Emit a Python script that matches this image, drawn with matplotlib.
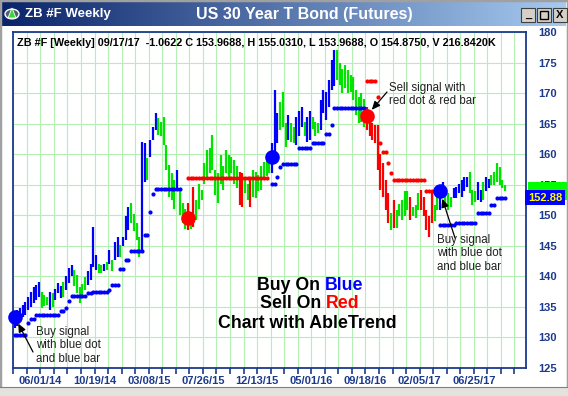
import numpy as np
import matplotlib
matplotlib.use("Agg")
import matplotlib.pyplot as plt
from matplotlib.colors import LinearSegmentedColormap
from matplotlib.patches import Rectangle, Circle, Polygon
from matplotlib.offsetbox import TextArea, HPacker, AnnotationBbox
import matplotlib.transforms as mtrans

plt.rcParams['font.family'] = ['Liberation Sans', 'DejaVu Sans']

# ---------------- data ----------------
highs = [
    133.8, 134.5, 134.9, 135.3, 135.8, 136.7, 137.4, 138.3, 138.6, 139.1,
    137.4, 137.0, 136.7, 137.5, 137.2, 138.0, 138.9, 138.5, 139.1, 140.0,
    141.3, 141.9, 141.0, 140.2, 138.3, 138.8, 139.9, 140.8, 142.1, 148.1,
    143.5, 142.1, 141.8, 142.1, 142.4, 144.3, 142.7, 145.7, 146.5, 145.1,
    146.5, 149.8, 151.4, 152.0, 150.2, 148.7, 146.5, 162.0, 161.8, 159.3,
    162.3, 164.5, 166.7, 165.9, 165.3, 166.1, 161.5, 158.2, 156.9, 155.8,
    157.4, 154.1, 152.0, 151.0, 152.0, 150.5, 154.7, 152.5, 155.2, 154.1,
    158.5, 160.7, 161.0, 163.1, 157.4, 156.9, 159.9, 158.0, 160.7, 159.9,
    159.6, 159.0, 158.0, 157.1, 156.9, 155.8, 155.2, 156.0, 157.4, 157.1,
    156.6, 158.0, 158.8, 159.5, 160.0, 161.8, 170.5, 166.7, 168.6, 170.2,
    165.1, 166.4, 165.1, 164.5, 166.1, 167.0, 167.8, 165.3, 166.1, 167.0,
    166.1, 165.3, 165.1, 168.9, 170.5, 170.2, 172.1, 175.4, 177.1, 177.0,
    174.9, 174.0, 174.6, 173.8, 173.0, 172.7, 170.5, 169.4, 170.0, 169.1,
    167.8, 165.6, 165.1, 164.8, 164.8, 160.1, 158.5, 155.8, 153.6, 150.3,
    152.5, 150.9, 151.9, 152.5, 153.9, 153.9, 153.0, 151.4, 151.7, 153.6,
    154.1, 153.0, 150.9, 149.8, 153.6, 151.7, 153.6, 153.6, 155.5, 154.1,
    153.6, 153.0, 154.4, 154.7, 155.2, 155.8, 156.3, 156.3, 157.1, 154.1,
    153.9, 155.5, 154.1, 155.5, 156.3, 156.0, 156.6, 157.1, 158.5, 157.9,
    155.8, 155.03,
]
lows = [
    131.5, 131.8, 132.6, 133.4, 133.6, 134.5, 135.0, 135.6, 136.2, 136.7,
    134.8, 135.1, 135.3, 134.5, 135.0, 136.1, 137.2, 136.5, 136.7, 137.8,
    138.9, 140.0, 138.5, 137.2, 135.6, 136.5, 137.8, 138.6, 139.4, 141.6,
    141.0, 140.5, 140.6, 140.8, 141.0, 142.1, 140.8, 142.7, 143.2, 143.2,
    144.9, 146.0, 147.6, 148.7, 147.5, 146.0, 143.2, 144.0, 155.5, 155.8,
    159.6, 162.3, 164.0, 163.1, 162.9, 161.5, 157.4, 153.0, 152.5, 151.1,
    154.1, 150.0, 148.7, 147.8, 147.6, 147.8, 148.1, 149.2, 151.1, 152.5,
    155.2, 156.3, 156.9, 157.4, 153.3, 152.0, 155.2, 154.1, 156.9, 156.3,
    156.9, 155.2, 154.5, 151.7, 151.4, 153.6, 152.5, 151.4, 153.0, 152.8,
    153.9, 154.1, 156.3, 156.5, 157.0, 156.9, 159.6, 161.8, 164.0, 164.5,
    161.2, 162.3, 162.0, 161.8, 161.5, 162.9, 164.5, 162.9, 162.0, 162.3,
    164.2, 162.9, 163.4, 164.0, 166.7, 165.6, 167.8, 170.5, 171.1, 172.1,
    171.3, 170.0, 170.8, 170.0, 170.2, 168.9, 166.4, 165.1, 165.3, 164.5,
    164.0, 162.9, 162.3, 161.8, 157.4, 154.1, 153.0, 150.9, 148.7, 147.6,
    147.9, 147.9, 149.8, 149.2, 149.8, 150.9, 149.2, 149.8, 149.6, 150.9,
    150.9, 149.8, 147.6, 146.5, 148.7, 149.0, 150.9, 150.9, 153.0, 151.4,
    150.9, 151.4, 152.8, 152.8, 153.6, 153.0, 153.9, 154.7, 153.6, 151.7,
    152.2, 152.5, 152.2, 152.5, 153.9, 154.5, 155.0, 155.0, 155.5, 155.0,
    154.4, 153.97,
]
# B = up trend (blue), G = neutral (green), R = down trend (red)
bar_side = ("BBBBBBBBBB" "GGGBGBBBGB" "BBGGGGGBBB" "BGGBGBGBBG" "BBBGGGGBBG"
            "BBBGGGGGGG" "BGGGRGRGGG" "GGGGGGGGGG" "GGGRRGGRGG" "GGGGGBBBGG"
            "GBGGBBBGBB" "GGGBBBBBBG" "GGGGGGGGGG" "RRRRRRRRRG" "RGGGGGRGGG"
            "RRRRRGGBBG" "GGBBBBBBGG" "GBBGBBGGGG" "GG")

nan = float('nan')
stop_levels = [
    130.4, 130.4, 130.4, 130.4, 130.4, 132.3, 133.1, 133.1, 133.6, 133.6,
    133.6, 133.6, 133.6, 133.6, 133.6, 133.6, 133.6, 134.4, 134.4, 134.8,
    135.9, 136.8, 136.8, 136.8, 136.8, 136.8, 136.8, 137.2, 137.2, 137.5,
    137.5, 137.5, 137.5, 137.5, 137.5, 137.8, 138.6, 138.6, 138.6, 141.2,
    141.2, 142.7, 142.7, 144.2, 144.2, 144.2, 144.2, 144.2, 146.7, 146.7,
    150.6, 153.5, 154.3, 154.3, 154.3, 154.3, 154.3, 154.3, 154.3, 154.3,
    154.3, 154.3, nan, nan, 156.1, 156.1, 156.1, 156.1, 156.1, 156.1,
    156.1, 156.1, 156.1, 156.1, 156.1, 156.1, 156.1, 156.1, 156.1, 156.1,
    156.1, 156.1, 156.1, 156.1, 156.1, 156.1, 156.1, 156.1, 156.1, 156.1,
    156.1, 156.1, 156.1, 156.1, nan, 155.1, 155.1, 156.3, 157.85, 158.4,
    158.4, 158.4, 158.4, 158.4, 158.4, 161.0, 161.0, 161.0, 161.0, 161.0,
    161.9, 161.9, 161.9, 161.9, 161.9, 163.3, 163.3, 164.8, 167.6, 167.6,
    167.6, 167.6, 167.6, 167.6, 167.6, 167.6, 167.6, 167.6, 167.6, 167.6,
    172.0, 172.0, 172.0, 172.0, 169.4, 161.8, 160.4, 160.4, 158.6, 156.9,
    155.8, 155.8, 155.8, 155.8, 155.8, 155.8, 155.8, 155.8, 155.8, 155.8,
    155.8, 155.8, 153.9, 153.9, 153.9, 153.9, 153.9, 148.4, 148.4, 148.4,
    148.4, 148.4, 148.4, 148.8, 148.8, 148.8, 148.8, 148.8, 148.8, 148.8,
    148.8, 150.4, 150.4, 150.4, 150.4, 150.4, 151.7, 151.7, 152.88, 152.88,
    152.88, 152.88,
]
stop_side = ("B" * 64) + ("R" * 31) + ("B" * 35) + ("R" * 27) + ("B" * 25)

signal_idx = [0, 64, 95, 130, 157]
signal_price = [133.4, 149.5, 159.6, 166.3, 153.9]
signal_side = ["B", "R", "B", "R", "B"]

date_tick_weeks = [10, 30, 50, 70, 90, 110, 130, 150, 170]
date_labels = ["06/01/14", "10/19/14", "03/08/15", "07/26/15", "12/13/15",
               "05/01/16", "09/18/16", "02/05/17", "06/25/17"]

last_close = 153.97
last_stop = 152.88
info_line = ("ZB #F [Weekly] 09/17/17  -1.0622 C 153.9688, H 155.0310, "
             "L 153.9688, O 154.8750, V 216.8420K")

# ---------------- figure ----------------
W, H = 568, 396
fig = plt.figure(figsize=(W / 100, H / 100), dpi=100)
fig.patch.set_facecolor('white')


def fx(px):
    return px / W


def fy(py):
    return 1 - py / H


NAVY = '#1c3a8c'
COL = {'B': '#0000ff', 'G': '#00e400', 'R': '#ff0000'}

# window chrome
fig.patches.append(Rectangle((0, 0), 1, 1, transform=fig.transFigure,
                             fill=False, ec='#a0a0a0', lw=2.5, zorder=0))
fig.patches.append(Rectangle((0, 0), 1, fy(387), transform=fig.transFigure,
                             fc='#e4e2dc', ec='none', zorder=0))
fig.lines.append(plt.Line2D([0, 1], [fy(387), fy(387)], transform=fig.transFigure,
                            color='#808080', lw=0.8))

tb = fig.add_axes([fx(2), fy(26), fx(564), 24 / H])
grad = np.linspace(0, 1, 256).reshape(1, -1)
tb.imshow(grad, aspect='auto',
          cmap=LinearSegmentedColormap.from_list('tb', ['#0a246a', '#a6caf0']),
          extent=[0, 1, 0, 1])
tb.set_xlim(0, 1)
tb.set_ylim(0, 1)
tb.axis('off')

# icon
fig.patches.append(Circle((fx(12), fy(14)), radius=7 / W, transform=fig.transFigure,
                          fc='#50606a', ec='white', lw=1.0, zorder=5))
fig.patches.append(Polygon([(fx(8), fy(18)), (fx(16), fy(18)), (fx(12), fy(8))],
                           closed=True, transform=fig.transFigure,
                           fc='#38d838', ec='white', lw=0.6, zorder=6))
fig.text(fx(25), fy(14), "ZB #F Weekly", color='white', fontsize=9.5,
         fontweight='bold', va='center', ha='left')
fig.text(fx(304), fy(14), "US 30 Year T Bond (Futures)", color='white',
         fontsize=11.5, fontweight='bold', va='center', ha='center')

for bx, glyph in [(521, '_'), (537, ''), (553, 'X')]:
    fig.patches.append(Rectangle((fx(bx), fy(22)), fx(14), 14 / H,
                                 transform=fig.transFigure, fc='#d4d0c8',
                                 ec='#404040', lw=0.8, zorder=5))
    if glyph:
        fig.text(fx(bx + 7), fy(15), glyph, ha='center', va='center',
                 fontsize=8, fontweight='bold', color='black', zorder=6)
    else:
        fig.patches.append(Rectangle((fx(bx + 3), fy(19)), fx(8), 8 / H,
                                     transform=fig.transFigure, fill=False,
                                     ec='black', lw=1.0, zorder=6))

# ---------------- main axes ----------------
ax = fig.add_axes([fx(13), fy(368), fx(526 - 13), (368 - 32) / H])
ax.set_facecolor('white')
px_per_week = 2.709
ax.set_xlim((13 - 13.3) / px_per_week, (526 - 13.3) / px_per_week)
ax.set_ylim(125, 180)

x = np.arange(len(highs)) + 0.5
ax.vlines(x, lows, highs, colors=[COL[c] for c in bar_side], lw=1.6, zorder=3)

stops = np.array(stop_levels, dtype=float)
for side in 'BR':
    m = np.array([s == side for s in stop_side])
    ax.plot(x[m], stops[m], ls='none', marker='o', ms=3.0, mew=0,
            color=COL[side], zorder=4)

for i, p, s in zip(signal_idx, signal_price, signal_side):
    ax.plot([x[i]], [p], 'o', ms=10.5, mew=0, color=COL[s], zorder=6,
            clip_on=False)

# grid / ticks
ax.set_xticks(np.arange(0, 190, 5))
ax.set_xticklabels([date_labels[date_tick_weeks.index(w)] if w in date_tick_weeks else ''
                    for w in np.arange(0, 190, 5)])
ax.set_yticks(np.arange(125, 181, 5))
ax.yaxis.tick_right()
ax.grid(True, color='#b4f0b4', lw=0.8, zorder=0)
ax.set_axisbelow(True)
ax.tick_params(axis='x', direction='out', length=4, width=1.2, color=NAVY,
               labelsize=8, labelcolor=NAVY, pad=2)
ax.tick_params(axis='y', length=0, pad=9, labelsize=8, labelcolor=NAVY)
for lbl in ax.get_xticklabels() + ax.get_yticklabels():
    lbl.set_fontweight('bold')
for sp in ax.spines.values():
    sp.set_color(NAVY)
    sp.set_linewidth(1.3)

# price boxes on the right: last close (green, mostly hidden) and stop (blue)
box_h = 2.8  # price units
ax.add_patch(Rectangle((1.003, last_close - box_h / 2), 0.09, box_h,
                       transform=mtrans.blended_transform_factory(ax.transAxes, ax.transData),
                       fc='#00ff00', ec='none', clip_on=False, zorder=7))
trans = mtrans.blended_transform_factory(ax.transAxes, ax.transData)
ax.text(1.004, last_stop, f"{last_stop:.2f}", transform=trans, ha='left',
        va='center', fontsize=8, fontweight='bold', color='#ffff00',
        bbox=dict(boxstyle='square,pad=0.25', fc='#0000ff', ec='none'),
        clip_on=False, zorder=8)

# info line
fig.text(fx(17), fy(43), info_line, fontsize=7.85, fontweight='bold',
         color='black', va='center', ha='left')

# central message
def colored_line(parts, cx, cy):
    areas = [TextArea(t, textprops=dict(color=c, fontsize=12.8, fontweight='bold'))
             for t, c in parts]
    pack = HPacker(children=areas, align='baseline', pad=0, sep=3.5)
    ab = AnnotationBbox(pack, (fx(cx), fy(cy)), xycoords='figure fraction',
                        frameon=False, box_alignment=(0.5, 0.5), pad=0)
    fig.add_artist(ab)

colored_line([("Buy On", 'black'), ("Blue", '#0000ff')], 310, 285)
colored_line([("Sell On", 'black'), ("Red", '#ff0000')], 310, 304)
colored_line([("Chart with AbleTrend", 'black')], 307, 323)

# annotations
note_kw = dict(fontsize=8.3, color='#202020', va='top', ha='left', linespacing=1.15)
fig.text(fx(36), fy(326), "Buy signal\nwith blue dot\nand blue bar", **note_kw)
fig.text(fx(389), fy(82), "Sell signal with\nred dot & red bar", **note_kw)
fig.text(fx(437), fy(234), "Buy signal\nwith blue dot\nand blue bar", **note_kw)

arrow_kw = dict(arrowstyle='-|>,head_length=0.5,head_width=0.22', color='black',
                lw=0.9, shrinkA=0, shrinkB=5.5)
for i, tail in [(0, (33, 352)), (3, (387, 92)), (4, (455, 238))]:
    ax.annotate('', xy=(x[signal_idx[i]], signal_price[i]), xycoords='data',
                xytext=(tail[0], H - tail[1]), textcoords='figure pixels',
                arrowprops=arrow_kw, zorder=7, annotation_clip=False)

fig.savefig('out.png', dpi=100, facecolor=fig.get_facecolor())
